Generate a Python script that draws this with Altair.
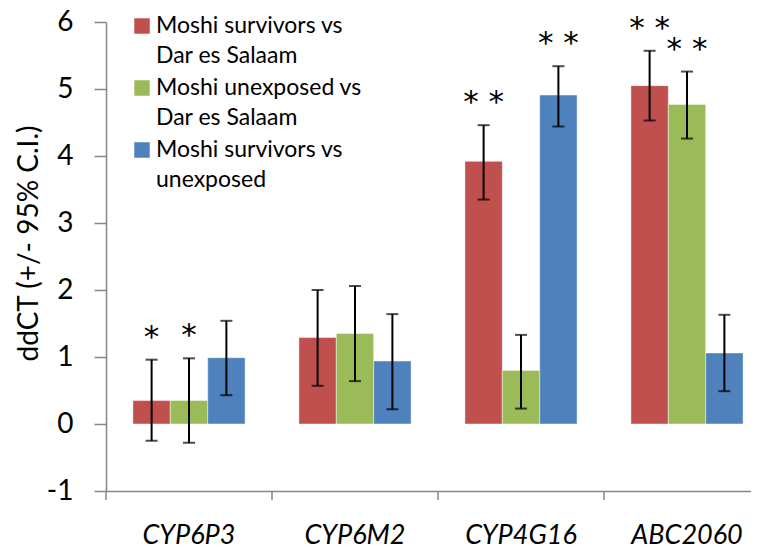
import altair as alt
import pandas as pd

genes = ["CYP6P3", "CYP6M2", "CYP4G16", "ABC2060"]
series = [
    "Moshi survivors vs Dar es Salaam",
    "Moshi unexposed vs Dar es Salaam",
    "Moshi survivors vs unexposed",
]
legend_labels = [
    "Moshi survivors vs\nDar es Salaam",
    "Moshi unexposed vs\nDar es Salaam",
    "Moshi survivors vs\nunexposed",
]
colors = ["#C0504D", "#9BBB59", "#4F81BD"]

# ddCT values per gene
surv_vs_dar = [0.35, 1.29, 3.92, 5.05]
unexp_vs_dar = [0.35, 1.35, 0.80, 4.77]
surv_vs_unexp = [0.99, 0.94, 4.91, 1.06]

# 95% C.I. lower / upper
surv_vs_dar_lo = [-0.25, 0.57, 3.35, 4.53]
surv_vs_dar_hi = [0.96, 2.00, 4.46, 5.57]
unexp_vs_dar_lo = [-0.28, 0.64, 0.23, 4.26]
unexp_vs_dar_hi = [0.98, 2.06, 1.33, 5.26]
surv_vs_unexp_lo = [0.43, 0.22, 4.44, 0.49]
surv_vs_unexp_hi = [1.54, 1.64, 5.34, 1.63]

# significance marks
surv_vs_dar_sig = ["*", "", "**", "**"]
unexp_vs_dar_sig = ["*", "", "", "**"]
surv_vs_unexp_sig = ["", "", "**", ""]

y_ticks = [-1, 0, 1, 2, 3, 4, 5, 6]

vals = [surv_vs_dar, unexp_vs_dar, surv_vs_unexp]
los = [surv_vs_dar_lo, unexp_vs_dar_lo, surv_vs_unexp_lo]
his = [surv_vs_dar_hi, unexp_vs_dar_hi, surv_vs_unexp_hi]
sigs = [surv_vs_dar_sig, unexp_vs_dar_sig, surv_vs_unexp_sig]

rows = []
for s, name in enumerate(series):
    for g, gene in enumerate(genes):
        rows.append({"gene": gene, "series": name, "value": vals[s][g],
                     "lo": los[s][g], "hi": his[s][g], "sig": sigs[s][g]})
df = pd.DataFrame(rows)
leg = pd.DataFrame({"series": series, "label": legend_labels, "idx": list(range(3))})

W, H = 645, 469
FONT = "Lato"
GRAY = "#868686"

x_scale = alt.Scale(domain=genes, range=[0, 664], paddingInner=0, paddingOuter=0)
x_axis = alt.Axis(title=None, labelFont=FONT, labelFontStyle="italic", labelFontSize=27,
                  labelColor="black", ticks=False, tickSize=0, labelPadding=52,
                  labelBaseline="alphabetic", labelAngle=0, domainColor=GRAY, domainWidth=1.5)
x_enc = alt.X("gene:N", sort=genes, scale=x_scale, axis=x_axis)
xo = alt.XOffset("series:N", sort=series,
                 scale=alt.Scale(domain=series, paddingInner=0, paddingOuter=0.72))
y_scale = alt.Scale(domain=[-1, 6], nice=False, zero=False)
y_axis = alt.Axis(values=y_ticks, labelExpr="'' + datum.value", title="ddCT (+/- 95% C.I.)",
                  titleFont=FONT, titleFontSize=28, titleFontWeight="normal", titleColor="black",
                  titleAngle=-90, titleBaseline="alphabetic", titleX=-69, titleY=221,
                  labelFont=FONT, labelFontSize=28, labelColor="black", labelPadding=21,
                  tickSize=12, tickColor=GRAY, tickWidth=1.5, domainColor=GRAY, domainWidth=1.5,
                  grid=False)
color = alt.Color("series:N", scale=alt.Scale(domain=series, range=colors), legend=None)

base = alt.Chart(df)

bars = base.mark_bar(stroke="white", strokeOpacity=0.45, strokeWidth=1).encode(
    x=x_enc, xOffset=xo,
    y=alt.Y("value:Q", scale=y_scale, axis=y_axis),
    y2=alt.datum(0),
    color=color,
)

err = base.mark_rule(color="black", strokeWidth=2).encode(
    x=x_enc, xOffset=xo, y="lo:Q", y2="hi:Q")
cap_lo = base.mark_tick(color="black", size=12, thickness=2).encode(
    x=x_enc, xOffset=xo, y="lo:Q")
cap_hi = base.mark_tick(color="black", size=12, thickness=2).encode(
    x=x_enc, xOffset=xo, y="hi:Q")

stars = base.transform_filter("datum.sig != ''").transform_calculate(
    star="replace(datum.sig, '**', '* *')"
).mark_text(font="DejaVu Sans", fontSize=31, color="black", baseline="alphabetic", dy=-13).encode(
    x=x_enc, xOffset=xo, y="hi:Q", text="star:N")

ticks = alt.Chart(pd.DataFrame({"gene": genes})).mark_rule(color=GRAY, strokeWidth=1.5).encode(
    x=alt.X("gene:N", sort=genes, scale=x_scale, axis=x_axis, bandPosition=0),
    y=alt.value(H), y2=alt.value(H + 9))

leg_sq = alt.Chart(leg).transform_calculate(py="4 + datum.idx * 62").mark_square(
    size=240, opacity=1).encode(
    x=alt.value(36), y=alt.Y("py:Q", scale=None, axis=None), color=color)
leg_tx = alt.Chart(leg).transform_calculate(py="11 + datum.idx * 62").mark_text(
    align="left", baseline="alphabetic", lineBreak="\n", lineHeight=30,
    font=FONT, fontSize=23, color="black").encode(
    x=alt.value(50), y=alt.Y("py:Q", scale=None, axis=None), text="label:N")

chart = alt.layer(bars, err, cap_lo, cap_hi, stars, ticks, leg_sq, leg_tx).properties(
    width=W, height=H,
    autosize=alt.AutoSizeParams(type="none"),
    padding={"left": 98, "top": 14, "right": 0, "bottom": 57},
).configure_view(stroke=None)

chart.save("out.html", embed_options={"renderer": "svg", "actions": False})
